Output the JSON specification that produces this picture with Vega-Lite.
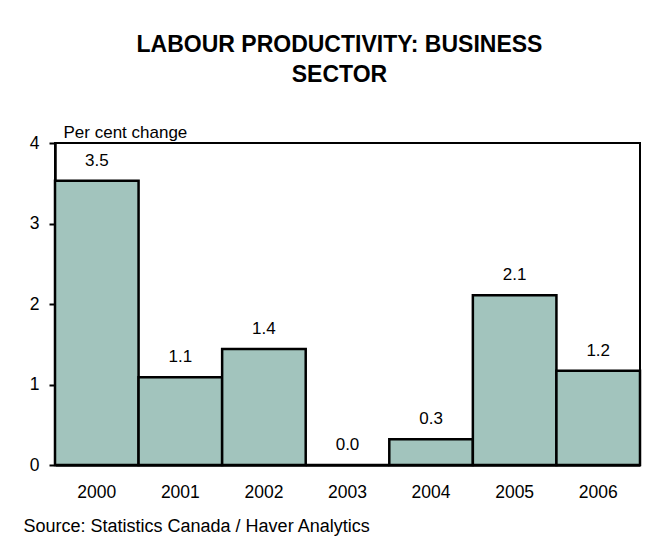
{
  "$schema": "https://vega.github.io/schema/vega-lite/v6.json",
  "width": 585,
  "height": 322,
  "autosize": {"type": "none"},
  "padding": {"left": 55, "top": 143, "right": 23, "bottom": 92},
  "background": "white",
  "title": {
    "text": ["LABOUR PRODUCTIVITY: BUSINESS", "SECTOR"],
    "anchor": "middle",
    "dx": -8,
    "fontSize": 23,
    "fontWeight": "bold",
    "font": "Liberation Sans",
    "color": "black",
    "lineHeight": 30,
    "offset": 36
  },
  "data": {
    "values": [
      {"year": "2000", "change": 3.53},
      {"year": "2001", "change": 1.09},
      {"year": "2002", "change": 1.44},
      {"year": "2003", "change": 0.0},
      {"year": "2004", "change": 0.32},
      {"year": "2005", "change": 2.11},
      {"year": "2006", "change": 1.17}
    ]
  },
  "encoding": {
    "x": {
      "field": "year",
      "type": "nominal",
      "scale": {"paddingInner": 0, "paddingOuter": 0},
      "axis": {
        "title": "Source: Statistics Canada / Haver Analytics",
        "titleFont": "Liberation Sans",
        "titleFontSize": 18,
        "titleFontWeight": "normal",
        "titleColor": "black",
        "titleAnchor": "start",
        "titleAlign": "left",
        "titleBaseline": "alphabetic",
        "titleX": -32,
        "titleY": 66,
        "labelAngle": 0,
        "labelFont": "Liberation Sans",
        "labelFontSize": 17.5,
        "labelColor": "black",
        "labelPadding": 18,
        "ticks": false,
        "domainColor": "black",
        "domainWidth": 2.5
      }
    },
    "y": {
      "field": "change",
      "type": "quantitative",
      "scale": {"domain": [0, 4], "nice": false},
      "axis": {
        "values": [0, 1, 2, 3, 4],
        "grid": false,
        "title": "Per cent change",
        "titleFont": "Liberation Sans",
        "titleFontSize": 17,
        "titleFontWeight": "normal",
        "titleColor": "black",
        "titleAngle": 0,
        "titleAlign": "left",
        "titleBaseline": "alphabetic",
        "titleX": 8,
        "titleY": -6,
        "labelFont": "Liberation Sans",
        "labelFontSize": 17.5,
        "labelColor": "black",
        "labelPadding": 10,
        "tickSize": 6,
        "tickWidth": 2,
        "tickColor": "black",
        "domainColor": "black",
        "domainWidth": 2.5
      }
    }
  },
  "layer": [
    {
      "mark": {"type": "bar", "fill": "#A2C4BD", "stroke": "black", "strokeWidth": 2.5}
    },
    {
      "mark": {"type": "text", "baseline": "alphabetic", "dy": -15, "font": "Liberation Sans", "fontSize": 17, "color": "black"},
      "encoding": {"text": {"field": "change", "type": "quantitative", "format": ".1f"}}
    }
  ],
  "config": {
    "view": {"stroke": "black", "strokeWidth": 2}
  }
}
